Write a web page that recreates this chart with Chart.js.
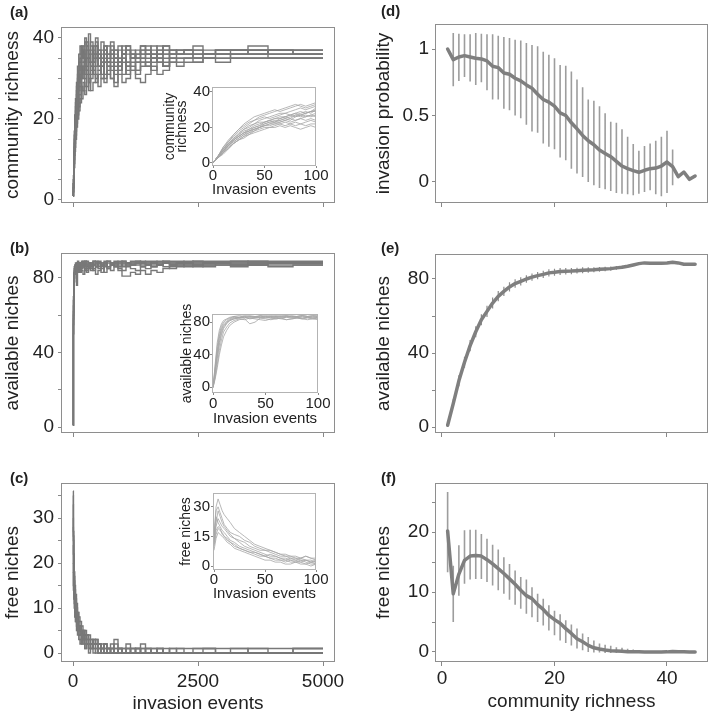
<!DOCTYPE html>
<html>
<head>
<meta charset="utf-8">
<script src="https://cdn.jsdelivr.net/npm/chart.js@4.4.1/dist/chart.umd.min.js"></script>
<style>
html, body { margin: 0; padding: 0; background: #fff; }
#fig { position: relative; width: 709px; height: 715px; overflow: hidden; }
#fig canvas { position: absolute; left: 0; top: 0; }
.lab { position: absolute; font: bold 15px "Liberation Sans", Arial, sans-serif; line-height: 18px; color: #222; }
</style>
</head>
<body>
<div id="fig">
  <canvas id="cA" width="709" height="715"></canvas>
  <canvas id="cB" width="709" height="715"></canvas>
  <canvas id="cC" width="709" height="715"></canvas>
  <canvas id="cD" width="709" height="715"></canvas>
  <canvas id="cE" width="709" height="715"></canvas>
  <canvas id="cF" width="709" height="715"></canvas>
  <canvas id="iA" width="709" height="715"></canvas>
  <canvas id="iB" width="709" height="715"></canvas>
  <canvas id="iC" width="709" height="715"></canvas>
  <div class="lab" style="left:10px;top:3px">(a)</div>
  <div class="lab" style="left:10px;top:239px">(b)</div>
  <div class="lab" style="left:10px;top:469px">(c)</div>
  <div class="lab" style="left:381px;top:2px">(d)</div>
  <div class="lab" style="left:381px;top:239px">(e)</div>
  <div class="lab" style="left:381px;top:469px">(f)</div>
</div>
<script>
// ---- data ----
// main runs (a, b, c): value after each invasion event step
var eventsMain = [0,8,16,25,35,50,70,90,115,140,170,200,235,270,310,350,400,450,500,560,620,680,750,820,900,980,1060,1150,1250,1350,1450,1560,1680,1800,1930,2070,2220,2400,2600,2850,3150,3500,3900,4400,5000];

var richnessRuns = [
  [1,4,9,13,17, 21,24,27,30,33, 35,37,34,38,36, 33,36,39,35,37, 34,36,38,35,37, 36,38,36,35,37, 36,38,36,37,36, 37,37,36,36,37, 37,37,37,36,36],
  [1,3,7,11,15, 19,22,24,27,29, 31,33,35,32,36, 34,37,33,35,36, 38,34,36,33,35, 37,34,36,35,36, 35,37,35,36,35, 36,36,35,35,36, 35,35,35,35,35],
  [1,5,10,14,18, 22,26,29,31,34, 36,38,40,35,37, 39,35,38,36,34, 37,35,37,36,34, 36,37,35,36,37, 38,36,37,38,37, 37,37,38,37,37, 37,37,37,37,37],
  [1,3,6,10,13, 17,20,22,24,26, 28,27,30,32,29, 31,33,30,32,34, 31,33,30,32,34, 31,33,35,32,34, 33,35,34,33,35, 35,35,34,35,35, 36,36,35,35,35],
  [1,4,8,12,16, 20,23,25,28,30, 32,34,31,33,35, 32,34,36,33,35, 37,34,32,35,33, 36,34,32,34,35, 34,36,35,34,36, 36,36,36,36,36, 37,37,36,36,36],
  [1,2,5,8,12, 15,18,20,22,24, 25,27,26,28,30, 27,29,31,28,30, 29,31,30,28,31, 29,30,32,30,29, 31,33,31,32,34, 33,34,34,35,35, 35,35,35,35,35],
  [1,5,11,16,20, 24,28,31,34,36, 38,35,39,37,34, 38,36,40,37,35, 38,36,39,37,35, 38,36,37,35,38, 37,36,38,37,36, 37,37,37,36,37, 37,38,37,37,37],
  [1,4,8,13,17, 21,25,28,31,29, 33,30,34,32,29, 33,31,35,32,30, 34,31,33,29,32, 34,31,33,32,34, 33,35,34,33,34, 35,35,35,36,36, 36,36,36,36,36],
  [1,3,7,11,14, 18,21,23,26,28, 30,32,33,35,31, 34,32,36,33,31, 35,33,36,34,32, 35,33,36,34,35, 36,34,36,35,36, 36,36,35,36,36, 36,37,36,36,36],
  [1,6,12,17,21, 25,29,33,36,38, 35,37,34,38,41, 36,38,35,37,39, 36,34,37,35,38, 36,37,35,36,38, 36,35,37,36,37, 36,37,37,36,37, 37,36,37,37,37],
  [1,4,10,15,19, 23,27,30,32,35, 37,34,36,39,35, 37,34,38,36,33, 36,38,35,37,34, 36,38,35,37,36, 37,35,36,38,37, 36,37,36,36,36, 36,36,37,36,36],
  [1,2,6,9,13, 16,19,21,23,25, 27,29,28,31,27, 30,32,29,31,33, 30,32,34,31,33, 35,32,34,31,33, 34,32,35,33,35, 34,35,35,35,34, 35,35,35,35,35]
];

var availableRuns = [
  [1,65,80,84,86, 85,87,88,86,88, 87,89,87,88,86, 88,89,87,88,87, 89,88,87,88,89, 88,87,88,88,89, 88,87,88,89,88, 88,89,88,88,88, 89,88,88,88,88],
  [1,58,76,82,84, 86,76,87,85,83, 86,88,86,84,87, 85,88,86,87,85, 88,86,87,88,86, 87,88,87,88,86, 87,88,87,88,87, 88,88,87,88,88, 87,88,88,88,88],
  [1,70,83,86,87, 88,86,89,87,88, 89,87,88,89,88, 87,89,88,89,88, 87,89,88,89,88, 89,88,89,89,88, 89,89,88,89,89, 89,88,89,89,89, 89,89,89,89,89],
  [1,50,72,78,82, 84,83,85,83,86, 84,82,85,83,86, 84,85,82,84,86, 83,85,84,86,85, 84,86,85,84,86, 85,86,87,86,85, 86,87,86,87,87, 86,87,87,87,87],
  [1,62,79,83,85, 87,85,86,88,86, 88,86,87,85,88, 86,87,88,86,88, 87,86,88,87,88, 86,88,87,88,87, 88,86,87,88,87, 88,87,88,87,88, 88,87,88,88,88],
  [1,68,81,85,84, 86,88,87,85,87, 88,86,89,87,88, 86,87,89,88,87, 88,89,87,88,87, 89,88,87,89,88, 87,88,89,88,87, 88,88,89,88,88, 88,89,88,88,88],
  [1,55,75,80,83, 82,85,84,86,84, 85,87,84,86,85, 87,84,86,85,83, 86,85,87,86,84, 81,81,83,82,84, 82,84,83,85,86, 87,86,87,86,87, 87,87,86,87,87],
  [1,60,78,82,85, 86,87,85,87,88, 86,87,89,87,86, 88,87,86,88,87, 88,86,88,87,86, 88,87,88,87,88, 87,88,87,88,88, 87,88,87,88,88, 87,88,88,88,88]
];

var freeRuns = [
  [36,25,20,16,13, 11,9,8,6,5, 4,5,3,4,2, 3,2,1,2,1, 1,0,1,2,1, 0,1,0,1,2, 1,0,1,0,0, 1,0,0,0,0, 1,0,0,0,0],
  [30,22,17,14,12, 10,8,7,6,4, 5,3,4,2,3, 1,2,3,1,2, 0,1,0,1,0, 1,2,1,0,1, 0,0,1,0,0, 0,0,1,1,0, 0,0,0,1,1],
  [24,18,15,12,10, 8,7,5,6,4, 3,4,2,3,1, 2,1,2,0,1, 2,1,0,1,0, 0,1,0,0,1, 0,0,0,0,1, 0,0,0,0,0, 0,0,0,0,0],
  [33,26,21,17,14, 12,10,9,7,6, 5,4,5,3,4, 3,2,3,2,1, 2,1,2,0,1, 0,1,0,1,0, 1,0,0,1,0, 0,0,0,1,0, 0,1,0,0,0],
  [20,15,13,11,9, 7,6,5,4,3, 2,3,1,2,1, 2,0,1,0,1, 0,0,1,0,1, 0,0,0,1,0, 0,0,0,0,0, 0,0,0,0,0, 0,0,0,1,1],
  [28,20,16,13,11, 9,8,6,5,5, 4,3,3,2,2, 1,3,2,1,0, 1,0,1,0,1, 0,0,1,0,0, 0,1,0,0,0, 0,0,0,0,0, 0,0,0,0,0],
  [35,27,22,18,15, 13,11,9,8,7, 6,5,4,4,3, 2,3,2,2,1, 2,1,1,3,1, 1,0,1,1,0, 1,1,1,0,1, 1,1,1,1,1, 1,1,1,1,1],
  [18,14,12,10,8, 7,5,4,3,2, 3,2,1,2,0, 1,1,0,1,0, 0,1,0,0,0, 0,0,0,0,0, 0,0,0,0,0, 0,0,0,0,0, 0,0,0,0,0]
];

// insets: first 100 invasion events
var eventsInsetA = [0,5,10,15,20,25,30,35,40,45,50,55,60,65,70,75,80,85,90,95,100];
var richnessInset = [
  [0,3,7,10,13,15,17,18,20,21,22,23,23,24,25,24,26,27,26,27,28],
  [0,4,8,11,14,17,19,21,22,24,25,26,27,28,28,29,30,31,30,31,32],
  [0,3,6,9,11,13,15,16,18,19,20,20,21,22,21,22,23,22,23,24,23],
  [0,4,8,12,15,18,20,22,24,26,27,28,29,30,31,32,33,32,31,32,33],
  [0,3,6,8,11,13,14,16,17,18,19,20,20,21,20,21,20,19,20,21,20],
  [0,4,7,11,13,16,18,19,21,22,23,24,25,26,26,27,26,27,28,29,29],
  [0,3,7,10,12,14,16,18,19,20,22,23,24,24,25,26,27,28,29,28,30],
  [0,4,9,12,16,19,21,23,24,25,26,25,26,27,28,27,28,29,28,29,30],
  [0,3,6,9,12,14,16,17,19,20,21,22,22,23,24,25,24,25,26,27,26],
  [0,4,8,11,14,16,19,20,22,23,23,24,25,25,26,27,28,27,28,29,31],
  [0,3,5,8,11,13,15,17,18,20,21,22,23,23,24,23,24,25,24,25,24],
  [0,4,9,13,16,19,22,24,26,27,28,29,30,29,30,31,32,33,32,33,34],
  [0,3,6,10,13,15,17,19,20,21,23,24,23,25,26,25,27,26,27,26,27],
  [0,4,7,10,13,15,17,18,19,20,21,21,22,22,23,22,21,22,21,22,22]
];
var eventsInsetBC = [0,2,4,6,8,10,13,16,20,25,30,35,40,45,50,55,60,65,70,75,80,85,90,95,100];
var availableInset = [
  [0,20,42,60,70,76,80,83,85,86,87,86,87,88,87,86,87,88,87,86,87,88,87,86,87],
  [0,15,35,52,64,72,78,82,84,86,85,87,86,85,86,87,86,87,88,87,86,85,86,87,86],
  [0,25,50,66,75,80,83,85,87,86,88,87,86,88,87,88,87,86,87,88,87,88,87,88,88],
  [0,12,28,45,58,68,74,79,82,84,83,85,84,83,82,84,85,84,83,84,85,84,83,84,83],
  [0,22,45,62,72,78,81,84,86,85,86,85,86,87,86,85,86,85,86,87,86,87,86,85,86],
  [0,18,38,55,67,74,79,82,84,85,86,84,85,86,85,86,84,85,86,85,86,85,86,85,85],
  [0,28,55,70,78,82,84,86,87,88,87,88,87,86,88,87,88,87,88,86,87,88,87,88,87],
  [0,10,24,40,52,62,70,76,80,83,84,78,80,85,84,83,84,85,83,84,85,84,85,84,85]
];
var freeInset = [
  [12,22,28,25,22,20,18,16,14,12,10,9,8,7,6,5,5,4,4,3,3,4,3,2,3],
  [15,30,34,31,28,26,24,22,19,17,15,13,11,10,9,8,7,6,6,5,5,4,5,4,4],
  [10,16,19,18,17,15,14,12,10,9,8,7,6,5,5,4,3,3,2,3,2,2,1,2,1],
  [14,25,22,20,18,17,15,13,12,10,9,8,7,6,5,6,5,4,3,4,3,2,3,2,2],
  [8,14,17,16,15,14,12,11,9,8,7,6,5,4,3,3,2,2,1,1,2,1,1,0,1],
  [13,20,24,22,20,19,17,15,14,13,12,10,9,8,8,7,6,5,5,4,4,3,3,3,2],
  [11,18,20,19,16,15,13,12,11,9,8,7,7,6,5,4,4,3,3,2,2,3,2,1,1],
  [16,28,30,27,24,21,19,17,16,15,13,12,10,9,8,8,7,6,5,5,4,4,5,4,3]
];

// right column: mean and spread against community richness
var richnessLevels = [1,2,3,4,5,6,7,8,9,10,11,12,13,14,15,16,17,18,19,20,21,22,23,24,25,26,27,28,29,30,31,32,33,34,35,36,37,38,39,40,41,42,43,44,45];
var invasionProb = [1.0,0.92,0.94,0.95,0.94, 0.93,0.925,0.91,0.87,0.86, 0.82,0.81,0.78,0.76,0.73, 0.705,0.66,0.62,0.60,0.57, 0.52,0.50,0.445,0.40,0.35, 0.31,0.28,0.24,0.215,0.19, 0.155,0.12,0.10,0.085,0.073, 0.088,0.10,0.105,0.12,0.15, 0.115,0.04,0.075,0.02,0.045];
var invasionLow = [null,0.72,0.76,0.79,0.755, 0.73,0.75,0.69,0.62,0.62, 0.55,0.54,0.50,0.48,0.43, 0.38,0.37,0.29,0.265,0.247, 0.184,0.164,0.10,0.063,0.038, 0.0,-0.025,-0.045,-0.055,-0.068, -0.083,-0.088,-0.093,-0.10,-0.088, -0.076,-0.063,-0.093,-0.108,-0.083, -0.025,null,null,null,null];
var invasionHigh = [null,1.12,1.115,1.11,1.11, 1.12,1.115,1.11,1.11,1.10, 1.09,1.083,1.07,1.063,1.045, 1.03,1.02,0.98,0.957,0.93, 0.88,0.874,0.83,0.77,0.713, 0.62,0.61,0.57,0.516,0.453, 0.446,0.396,0.34,0.285,0.234, 0.27,0.29,0.31,0.34,0.385, 0.244,null,null,null,null];

var availMean = [1,12.7,25,35,44, 51.5,58,62.5,67,70.6, 73.3,75.7,77.5,78.7,80, 81,81.8,82.5,83.3,83.6, 84,84.2,84.3,84.5,84.7, 84.9,85,85.2,85.4,85.6, 86,86.3,86.9,87.6,88.3, 88.7,88.5,88.5,88.5,88.7, 89,88.7,88,88,88];
var availLow = [null,11,22,32,41, 48.5,55,59.5,64,68, 70.8,73.2,75.2,76.5,78, 79,79.8,80.5,81.3,81.7, 82.1,82.4,82.6,82.9,83.1, 83.4,83.6,83.9,84.2,84.5, 85,85.4,null,null,null, null,null,null,null,null, null,null,null,null,null];
var availHigh = [null,15,28,38,47, 54.5,61,65.5,70,73.5, 75.8,78.2,79.8,81,82, 83,83.8,84.5,85.3,85.5, 85.9,86,86,86.1,86.3, 86.4,86.4,86.5,86.6,86.7, 87,87.2,null,null,null, null,null,null,null,null, null,null,null,null,null];

var freeMean = [20.2,9.7,13,15.3,16, 16.1,16,15.4,14.7,13.9, 13.1,12.2,11.3,10.3,9.4, 8.9,7.9,7.1,6.1,5.4, 4.8,3.9,3.1,2.2,1.7, 1.1,0.7,0.5,0.33,0.22, 0.17,0.11,0.06,0.03,0.02, 0.01,0.01,0,0,0.02, 0.1,0.05,0.02,0.01,0];
var freeLow = [13.3,5,9.4,11.4,12.1, 12.2,12.2,11.7,11.1,10.3, 9.7,8.7,7.9,7.2,6.4, 5.8,5,4.4,3.6,2.8, 1.9,1.5,1.1,0.6,0.3, 0,-0.1,-0.1,-0.15,-0.15, -0.15,-0.15,-0.1,-0.1,null, null,null,null,null,null, null,null,null,null,null];
var freeHigh = [26.7,14.4,17.8,20.3,20.4, 20.4,19.7,18.9,17.9,17.1, 15.8,14.7,13.6,12.5,12.1, 10.8,9.7,8.9,7.8,6.9, 6.3,5.3,4.6,3.9,3.1, 2.5,1.9,1.4,1.2,1.05, 0.8,0.7,0.55,0.4,null, null,null,null,null,null, null,null,null,null,null];

// ticks
var eventTicks = [0, 2500, 5000];
var insetEventTicks = [0, 50, 100];
var richTicks = [0, 20, 40];

// ---- drawing ----
var W = 709, H = 715, INK = '#222';
Chart.defaults.font.family = '"Liberation Sans", Arial, Helvetica, sans-serif';

var framePlugin = {
  id: 'frame',
  afterDraw: function (chart, args, o) {
    var a = chart.chartArea, ctx = chart.ctx;
    ctx.save();
    ctx.strokeStyle = o.color;
    ctx.lineWidth = 1;
    ctx.strokeRect(Math.round(a.left) + 0.5, Math.round(a.top) + 0.5,
      Math.round(a.right - a.left) - 1, Math.round(a.bottom - a.top) - 1);
    ctx.restore();
  }
};

function points(xs, ys) {
  return xs.map(function (x, i) { return {x: x, y: ys[i]}; });
}
function errorPoints(xs, lo, hi) {
  var pts = [];
  xs.forEach(function (x, i) {
    if (lo[i] === null) return;
    pts.push({x: x, y: lo[i]}, {x: x, y: hi[i]}, {x: x, y: null});
  });
  return pts;
}

function scale(o) {
  var labelled = o.labels || [];
  var s = {
    type: 'linear', min: o.min, max: o.max, offset: false,
    border: {display: false},
    grid: {drawOnChartArea: false, drawTicks: true, tickLength: o.tickLen, color: o.tickColor || '#888', lineWidth: 1, offset: false},
    ticks: {
      display: labelled.length > 0, autoSkip: false, maxRotation: 0, minRotation: 0,
      padding: o.tickPad, color: INK, font: {size: o.fontSize, lineHeight: o.lineHeight || 1.2},
      callback: function (v) { return labelled.indexOf(v) >= 0 ? String(v) : ''; }
    },
    title: {display: false},
    afterBuildTicks: function (sc) { sc.ticks = o.ticks.map(function (v) { return {value: v}; }); },
    afterFit: function (sc) { if (o.axis === 'x') sc.height = o.size; else sc.width = o.size; }
  };
  if (o.title) {
    s.title = {display: true, text: o.title, color: INK,
      font: {size: o.titleSize, lineHeight: o.titleLH || 1.2},
      padding: {top: o.titlePad, bottom: o.titlePad}};
  }
  return s;
}

function makeChart(id, area, datasets, xs, ys, frameColor) {
  xs.axis = 'x'; ys.axis = 'y';
  return new Chart(document.getElementById(id), {
    type: 'line',
    data: {datasets: datasets},
    options: {
      responsive: false, animation: false, events: [],
      layout: {padding: {left: area.l - ys.size, top: area.t, right: W - area.r, bottom: H - area.b - xs.size}},
      elements: {point: {radius: 0}, line: {tension: 0}},
      plugins: {legend: {display: false}, tooltip: {enabled: false}, frame: {color: frameColor}},
      scales: {x: scale(xs), y: scale(ys)}
    },
    plugins: [framePlugin]
  });
}

function runSets(xs, runs, color, width, stepped) {
  return runs.map(function (r) {
    return {data: points(xs, r), borderColor: color, borderWidth: width, stepped: stepped, pointRadius: 0, fill: false};
  });
}
function meanSets(ys, lo, hi, barColor, barWidth) {
  return [
    {data: points(richnessLevels, ys), borderColor: '#7f7f7f', borderWidth: 3.5, borderJoinStyle: 'round', borderCapStyle: 'round', pointRadius: 0},
    {data: errorPoints(richnessLevels, lo, hi), borderColor: barColor, borderWidth: barWidth, spanGaps: false, pointRadius: 0}
  ];
}

var TRAJ = '#787878', INSET = '#a6a6a6';
var mainX = {min: -240, max: 5240, ticks: eventTicks, tickLen: 4, tickPad: 4, fontSize: 19, size: 10};
var rightX = {min: -1.244, max: 47.29, ticks: richTicks, tickLen: 4, tickPad: 4, fontSize: 19, size: 10};
function leftY(min, max, ticks, labels, title) {
  return {min: min, max: max, ticks: ticks, labels: labels, tickLen: 3, tickPad: 4, fontSize: 19, size: 61,
    title: title, titleSize: 19, titlePad: 1.5};
}
function rightY(min, max, ticks, labels, title) {
  return {min: min, max: max, ticks: ticks, labels: labels, tickLen: 3, tickPad: 3, fontSize: 19, size: 75,
    title: title, titleSize: 19, titlePad: 12};
}

// (a)
makeChart('cA', {l: 61, r: 335, t: 27, b: 203}, runSets(eventsMain, richnessRuns, TRAJ, 1.4, true),
  Object.assign({}, mainX), leftY(-0.75, 42.7, [0,5,10,15,20,25,30,35,40], [0,20,40], 'community richness'), '#8e8e8e');
// (b)
makeChart('cB', {l: 61, r: 335, t: 253, b: 433}, runSets(eventsMain, availableRuns, TRAJ, 1.4, true),
  Object.assign({}, mainX), leftY(-3.2, 93.4, [0,20,40,60,80], [0,40,80], 'available niches'), '#8e8e8e');
// (c)
makeChart('cC', {l: 61, r: 335, t: 483, b: 662}, runSets(eventsMain, freeRuns, TRAJ, 1.4, true),
  Object.assign({}, mainX, {labels: eventTicks, size: 53, title: 'invasion events', titleSize: 19, titlePad: 0}),
  leftY(-2, 37.8, [0,5,10,15,20,25,30,35], [0,10,20,30], 'free niches'), '#8e8e8e');
// (d)
makeChart('cD', {l: 435, r: 708, t: 24, b: 203}, meanSets(invasionProb, invasionLow, invasionHigh, '#9d9d9d', 1.6),
  Object.assign({}, rightX), rightY(-0.158, 1.188, [0, 0.5, 1], [0, 0.5, 1], 'invasion probability'), '#8e8e8e');
// (e)
makeChart('cE', {l: 435, r: 708, t: 254, b: 433}, meanSets(availMean, availLow, availHigh, '#8c8c8c', 1.2),
  Object.assign({}, rightX), rightY(-3.2, 93.5, [0,20,40,60,80], [0,40,80], 'available niches'), '#8e8e8e');
// (f)
makeChart('cF', {l: 435, r: 708, t: 483, b: 662}, meanSets(freeMean, freeLow, freeHigh, '#9d9d9d', 1.6),
  Object.assign({}, rightX, {labels: richTicks, size: 53, tickPad: 1, title: 'community richness', titleSize: 19, titlePad: 1.6}),
  rightY(-1.67, 28.2, [0,5,10,15,20,25], [0,10,20], 'free niches'), '#8e8e8e');

// insets
function insetX(bottom, titlePad, pad) {
  return {min: -1, max: 100, ticks: insetEventTicks, labels: insetEventTicks, tickLen: 2, tickPad: pad, fontSize: 15, lineHeight: 1,
    size: bottom, title: 'Invasion events', titleSize: 15, titleLH: 1, titlePad: titlePad};
}
makeChart('iA', {l: 212, r: 316, t: 87, b: 166}, runSets(eventsInsetA, richnessInset, INSET, 0.8, false),
  insetX(34, 2.5, 0),
  {min: -1.7, max: 42.8, ticks: [0,20,40], labels: [0,20,40], tickLen: 2, tickPad: 0, fontSize: 15, lineHeight: 1, size: 52,
   title: ['community', 'richness'], titleSize: 14, titleLH: 0.9, titlePad: 3.7}, '#b3b3b3');
makeChart('iB', {l: 212, r: 318, t: 314, b: 393}, runSets(eventsInsetBC, availableInset, INSET, 0.8, false),
  insetX(37, 4, 1.5),
  {min: -7, max: 90, ticks: [0,40,80], labels: [0,40,80], tickLen: 2, tickPad: 0, fontSize: 15, lineHeight: 1, size: 40,
   title: 'available niches', titleSize: 14, titleLH: 1, titlePad: 8}, '#b3b3b3');
makeChart('iC', {l: 213, r: 316, t: 493, b: 570}, runSets(eventsInsetBC, freeInset, INSET, 0.8, false),
  insetX(35, 3.5, 0.5),
  {min: -2, max: 37, ticks: [0,15,30], labels: [0,15,30], tickLen: 2, tickPad: 1, fontSize: 15, lineHeight: 1, size: 41,
   title: 'free niches', titleSize: 14, titleLH: 1, titlePad: 7}, '#b3b3b3');
</script>
</body>
</html>
